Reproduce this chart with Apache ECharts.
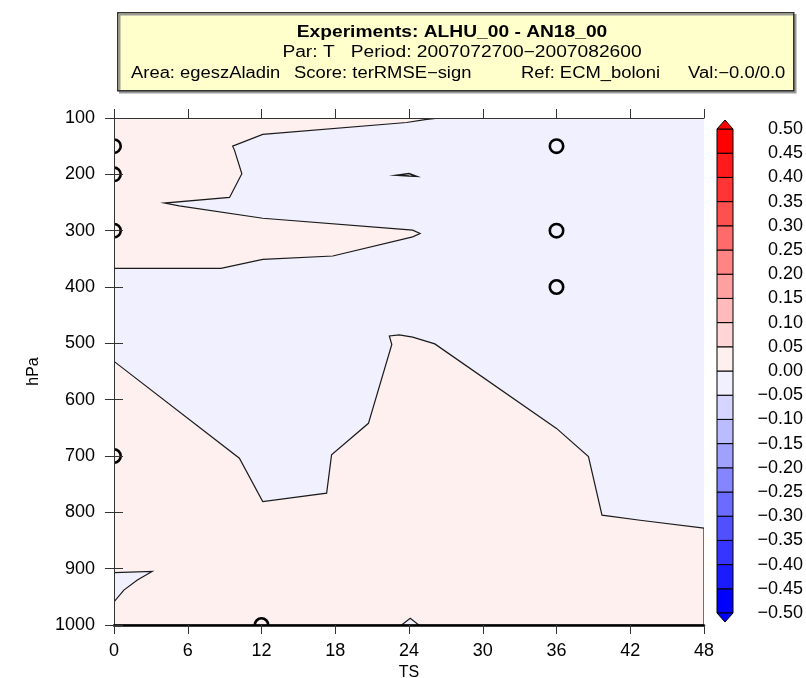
<!DOCTYPE html>
<html><head><meta charset="utf-8">
<script src="https://cdn.jsdelivr.net/npm/echarts@6/dist/echarts.min.js"></script>
<style>html,body{margin:0;padding:0;background:#fff}#c{width:806px;height:678px}</style>
</head><body><div id="c"></div>
<script>
// ---- data ----
const tsTicks = [0, 6, 12, 18, 24, 30, 36, 42, 48];
const hpaTicks = [100, 200, 300, 400, 500, 600, 700, 800, 900, 1000];
const levels = [-0.50,-0.45,-0.40,-0.35,-0.30,-0.25,-0.20,-0.15,-0.10,-0.05,0.00,0.05,0.10,0.15,0.20,0.25,0.30,0.35,0.40,0.45,0.50];
const negColors = ['#0000ff','#1b1bff','#3535ff','#5050ff','#6b6bff','#8585ff','#a0a0ff','#bbbbff','#d5d5ff','#f0f0ff'];
const posColors = ['#fff0f0','#ffd5d5','#ffbbbb','#ffa0a0','#ff8585','#ff6b6b','#ff5050','#ff3535','#ff1b1b','#ff0000'];
// contour regions (TS, hPa) of the zero line
const pinkTop = [[0,100],[26.5,100],[25.3,103],[23.8,108],[12.1,129],[9.65,150],[9.8,157],[10.4,199],[9.4,241],[4.1,251],[5.3,256],[12.1,278],[24.3,299],[24.9,305],[24.3,311],[17.8,345],[12.1,351],[8.7,367],[0,367]];
const pinkLow = [[0,532],[10.2,704],[12.1,781],[17.3,766],[17.7,698],[20.7,642],[22.6,502],[22.4,487],[23.2,485],[24.3,489],[26.1,501],[36,651],[38.6,701],[39.7,805],[42.8,814],[48,828],[48,1000],[0,1000]];
const pinkSpeck = [[23.0,201.5],[24.0,198.5],[24.6,203.5],[24.0,203]];
const lavSliver = [[0,907],[3.1,905],[1.9,920],[0.8,938],[0,959]];
const lavBump = [[23.4,1000],[24.1,988],[24.8,1000]];
const circles = [[0,150],[0,200],[0,300],[0,700],[36,150],[36,300],[36,400],[12,1000]];
const titleLines = ['Experiments: ALHU_00 - AN18_00', 'Par: T   Period: 2007072700\u22122007082600'];
const infoParts = ['Area: egeszAladin', 'Score: terRMSE\u2212sign', 'Ref: ECM_boloni', 'Val:\u22120.0/0.0'];

// ---- build ----
const PINK = posColors[0], LAV = negColors[9];
const binColors = negColors.concat(posColors);
const FONT = 'Liberation Sans';

function polySeries(poly, fill, lw) {
  return {
    type: 'custom', xAxisIndex: 0, yAxisIndex: 0, clip: true, z: 3,
    data: [poly[0]],
    renderItem: function (params, api) {
      return { type: 'polygon', shape: { points: poly.map(p => api.coord(p)) },
        style: { fill: fill, stroke: '#1a1a1a', lineWidth: lw || 1.2 } };
    }
  };
}
function tText(str, x, y, bold, align, sx) {
  return { type: 'text', x: x, y: y, scaleX: sx || 1.2,
    style: { text: str, fontFamily: FONT, fontWeight: bold ? 'bold' : 'normal', fontSize: 16, fill: '#000',
      align: align || 'center', verticalAlign: 'middle' } };
}

const chart = echarts.init(document.getElementById('c'), null, { renderer: 'canvas' });
const axisCommon = {
  axisLine: { show: true, lineStyle: { color: '#333', width: 1 } },
  axisTick: { show: true, length: 9, lineStyle: { color: '#333', width: 1 } },
  splitLine: { show: false }, z: 10
};
chart.setOption({
  animation: false,
  grid: [
    { left: 114, right: 102, top: 118, bottom: 53, show: true, backgroundColor: LAV, borderWidth: 0,
      containLabel: false, outerBoundsMode: 'none' },
    { left: 717, width: 16, top: 129, height: 484, containLabel: false, outerBoundsMode: 'none' }
  ],
  xAxis: [
    Object.assign({}, axisCommon, { gridIndex: 0, type: 'value', position: 'bottom', min: 0, max: 48, interval: 6,
      axisLine: { show: true, lineStyle: { color: '#000', width: 2.5 } },
      axisLabel: { margin: 17, fontSize: 18, fontFamily: FONT, color: '#000',
        formatter: v => tsTicks.indexOf(v) >= 0 ? String(v) : '' },
      name: 'TS', nameLocation: 'middle', nameGap: 37,
      nameTextStyle: { fontSize: 16, fontFamily: FONT, color: '#000' } }),
    Object.assign({}, axisCommon, { gridIndex: 0, type: 'value', position: 'top', min: 0, max: 48, interval: 6,
      axisLabel: { show: false } }),
    { gridIndex: 1, type: 'value', min: 0, max: 1, show: false }
  ],
  yAxis: [
    Object.assign({}, axisCommon, { gridIndex: 0, type: 'value', position: 'left', inverse: true, min: 100, max: 1000, interval: 100,
      axisLabel: { margin: 19, fontSize: 18, fontFamily: FONT, color: '#000',
        formatter: v => hpaTicks.indexOf(v) >= 0 ? String(v) : '' },
      name: 'hPa', nameLocation: 'middle', nameGap: 72, nameRotate: 90,
      nameTextStyle: { fontSize: 16, fontFamily: FONT, color: '#000' } }),
    Object.assign({}, axisCommon, { gridIndex: 0, type: 'value', position: 'right', inverse: true, min: 100, max: 1000, interval: 100,
      axisLabel: { show: false } }),
    { gridIndex: 1, type: 'value', position: 'right', min: -0.5, max: 0.5, interval: 0.05,
      axisLine: { show: false }, splitLine: { show: false },
      axisTick: { show: true, length: 10, lineStyle: { color: '#000', width: 1 } },
      axisLabel: { margin: 70, align: 'right', fontSize: 18, fontFamily: FONT, color: '#000',
        formatter: v => { if (Math.abs(v) < 1e-9) return '0.00'; return (v < 0 ? '\u2212' : '') + Math.abs(v).toFixed(2); } } }
  ],
  series: [
    polySeries(pinkTop, PINK),
    polySeries(pinkLow, PINK),
    polySeries(pinkSpeck, PINK, 1.6),
    polySeries(lavSliver, LAV),
    polySeries(lavBump, LAV),
    {
      type: 'custom', xAxisIndex: 0, yAxisIndex: 0, clip: true, z: 4,
      data: circles,
      renderItem: function (params, api) {
        const p = api.coord([api.value(0), api.value(1)]);
        return { type: 'circle', shape: { cx: p[0], cy: p[1], r: 6.7 },
          style: { fill: 'none', stroke: '#000', lineWidth: 2.6 } };
      }
    },
    {
      type: 'custom', xAxisIndex: 2, yAxisIndex: 2, z: 3,
      data: binColors.map((c, i) => [0.5, (levels[i] + levels[i + 1]) / 2]),
      renderItem: function (params, api) {
        const i = params.dataIndex;
        const a = api.coord([0, levels[i]]), b = api.coord([1, levels[i + 1]]);
        return { type: 'rect', shape: { x: a[0], y: b[1], width: b[0] - a[0], height: a[1] - b[1] },
          style: { fill: binColors[i], stroke: '#000', lineWidth: 1 } };
      }
    },
    {
      type: 'custom', xAxisIndex: 2, yAxisIndex: 2, z: 3,
      data: [[0.5, levels[levels.length - 1]], [0.5, levels[0]]],
      renderItem: function (params, api) {
        const top = params.dataIndex === 0;
        const v = api.value(1);
        const a = api.coord([0, v]), b = api.coord([1, v]);
        const apex = [(a[0] + b[0]) / 2, a[1] + (top ? -9 : 9)];
        return { type: 'polygon', shape: { points: [a, b, apex] },
          style: { fill: top ? posColors[9] : negColors[0], stroke: '#000', lineWidth: 1 } };
      }
    }
  ],
  graphic: [
    { type: 'rect', left: 117, top: 12, shape: { width: 676, height: 78 },
      style: { fill: '#ffffcc', stroke: '#333', lineWidth: 1.5, shadowColor: '#999', shadowOffsetX: 2, shadowOffsetY: 2 } },
    tText(titleLines[0], 452, 33, true),
    tText(titleLines[1], 462, 53, false),
    tText(infoParts[0], 131, 74, false, 'left', 1.15),
    tText(infoParts[1], 294, 74, false, 'left', 1.15),
    tText(infoParts[2], 521, 74, false, 'left', 1.15),
    tText(infoParts[3], 688, 74, false, 'left', 1.15)
  ]
});
</script></body></html>
